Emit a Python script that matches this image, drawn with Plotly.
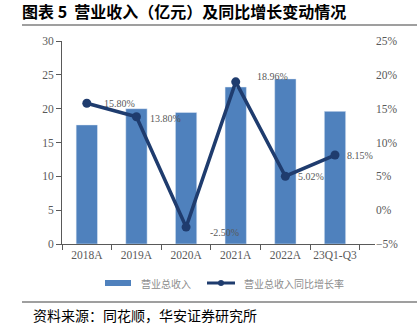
import plotly.graph_objects as go

categories = ["2018A", "2019A", "2020A", "2021A", "2022A", "23Q1-Q3"]
revenue = [17.6, 20.0, 19.45, 23.2, 24.4, 19.6]
growth = [15.80, 13.80, -2.50, 18.96, 5.02, 8.15]
growth_labels = ["15.80%", "13.80%", "-2.50%", "18.96%", "5.02%", "8.15%"]

# label offsets in pixels (style only)
label_dx = [15, 12, 22, 19, 11, 10]
label_dy = [0, -2, -5, 5, 0, 0]

serif = "Liberation Serif, Times New Roman, serif"
cjk = "Noto Sans CJK SC"
grey = "#595959"
bar_color = "#4F81BD"
line_color = "#1F3C6E"

L, R, T, B = 62, 42, 41, 80
W, H = 417, 324
PW, PH = W - L - R, H - T - B


def px(x):
    return (x - L) / PW


def py(y):
    return (H - B - y) / PH


fig = go.Figure()
fig.add_trace(go.Bar(
    x=categories, y=revenue, name="营业总收入",
    marker=dict(color=bar_color), width=0.43, yaxis="y"))
fig.add_trace(go.Scatter(
    x=categories, y=growth, name="营业总收入同比增长率", yaxis="y2",
    mode="lines+markers",
    line=dict(color=line_color, width=3.5),
    marker=dict(color=line_color, size=9)))

annotations = []
for c, g, t, dx, dy in zip(categories, growth, growth_labels, label_dx, label_dy):
    annotations.append(dict(
        x=c, y=g, xref="x", yref="y2", text=t, showarrow=False,
        xanchor="left", yanchor="middle", xshift=dx, yshift=dy,
        font=dict(family=serif, size=10, color=grey)))

annotations.append(dict(
    text="资料来源：同花顺，华安证券研究所", xref="paper", yref="paper",
    x=px(31), y=py(315), xanchor="left", yanchor="middle",
    showarrow=False, font=dict(family=cjk, size=14, color="#000000")))

# manual legend
annotations.append(dict(
    text="营业总收入", xref="paper", yref="paper", x=px(139), y=py(283),
    xanchor="left", yanchor="middle", showarrow=False,
    font=dict(family=cjk, size=10, color="#8C8C8C")))
annotations.append(dict(
    text="营业总收入同比增长率", xref="paper", yref="paper", x=px(242), y=py(283),
    xanchor="left", yanchor="middle", showarrow=False,
    font=dict(family=cjk, size=10, color="#8C8C8C")))

shapes = [
    dict(type="line", xref="paper", yref="paper", x0=px(22), x1=px(420),
         y0=py(25), y1=py(25), line=dict(color="#404040", width=1.2)),
    dict(type="line", xref="paper", yref="paper", x0=px(22), x1=px(420),
         y0=py(302), y1=py(302), line=dict(color="#404040", width=1.2)),
    dict(type="rect", xref="paper", yref="paper", x0=px(105), x1=px(131),
         y0=py(286), y1=py(280), fillcolor=bar_color, line=dict(width=0)),
    dict(type="line", xref="paper", yref="paper", x0=px(207), x1=px(235),
         y0=py(283), y1=py(283), line=dict(color=line_color, width=3)),
    dict(type="circle", xref="paper", yref="paper", x0=px(218), x1=px(224),
         y0=py(286), y1=py(280), fillcolor=line_color, line=dict(width=0)),
]

fig.update_layout(
    width=W, height=H,
    margin=dict(l=L, r=R, t=T, b=B),
    paper_bgcolor="white", plot_bgcolor="white",
    showlegend=False,
    xaxis=dict(
        type="category", showline=True, linecolor="#595959", linewidth=1,
        ticks="outside", tickson="boundaries", ticklen=5, tickcolor="#595959",
        tickangle=0,
        tickfont=dict(family=serif, size=11.5, color=grey), showgrid=False),
    yaxis=dict(
        range=[0, 30], dtick=5, showline=True, linecolor="#595959", linewidth=1,
        ticks="outside", ticklen=5, tickcolor="#595959", showgrid=False,
        zeroline=False,
        tickfont=dict(family=serif, size=11.5, color=grey)),
    yaxis2=dict(
        range=[-5, 25], dtick=5, overlaying="y", side="right", ticksuffix="%",
        showline=False, ticks="", showgrid=False, zeroline=False,
        tickfont=dict(family=serif, size=11.5, color=grey)),
    title=dict(text="<b>图表 5  营业收入（亿元）及同比增长变动情况</b>",
               x=22/W, xanchor="left", xref="container",
               y=1 - 12/H, yanchor="middle", yref="container",
               font=dict(family=cjk, size=16, color="#000000")),
    shapes=shapes,
    annotations=annotations,
)

fig.write_html("out.html")
